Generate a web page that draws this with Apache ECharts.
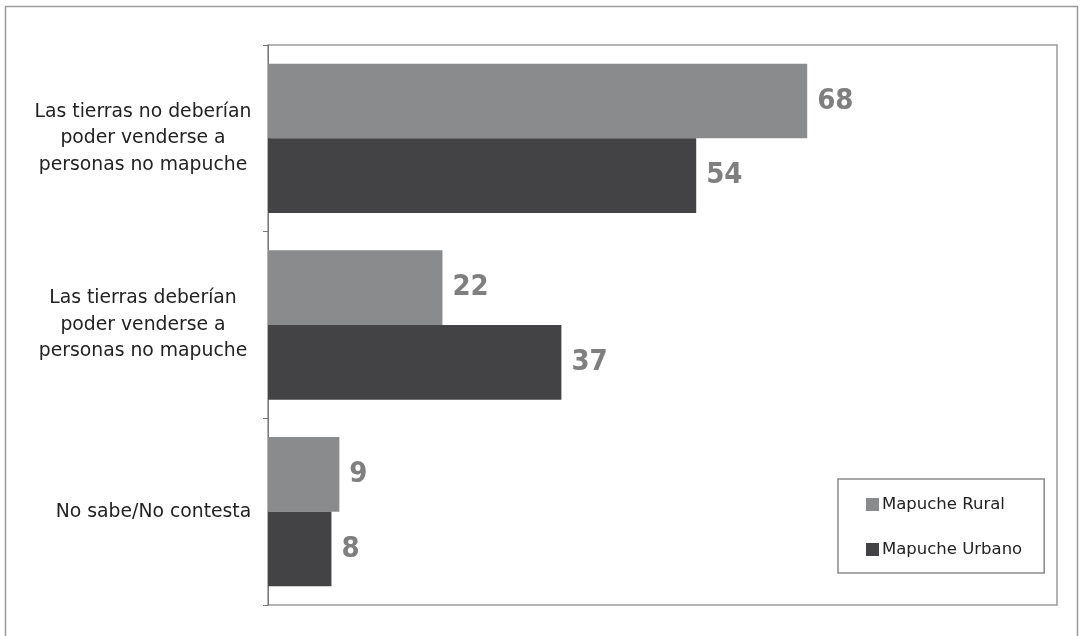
<!DOCTYPE html>
<html><head><meta charset="utf-8">
<script src="https://cdn.jsdelivr.net/npm/echarts@6/dist/echarts.min.js"></script>
<style>html,body{margin:0;padding:0;background:#fff}#c{width:1080px;height:636px}</style>
</head><body><div id="c"></div>
<script>
const categories = ["Las tierras no deberían\npoder venderse a\npersonas no mapuche", "Las tierras deberían\npoder venderse a\npersonas no mapuche", "No sabe/No contesta"];
const seriesNames = ["Mapuche Rural", "Mapuche Urbano"];
const rural = [68, 22, 9];
const urbano = [54, 37, 8];
const colors = ["#8a8b8d", "#434244"];
const font = "DejaVu Sans";
const chart = echarts.init(document.getElementById('c'));
const mk = (name, data, color) => ({
  name, type: 'bar', data, barCategoryGap: '20%', barGap: '0%',
  itemStyle: { color },
  label: { show: true, position: 'right', distance: 10, color: '#7f7f7f', fontWeight: 'bold', fontSize: 29, fontFamily: '"DejaVu Sans Condensed", Roboto, sans-serif' }
});
chart.setOption({
  animation: false,
  backgroundColor: '#fff',
  graphic: [{ type: 'rect', left: 3, top: 4, shape: { width: 1072, height: 640 }, style: { fill: 'none', stroke: '#9a9a9a', lineWidth: 1.5 } }],
  grid: { left: 268, right: 23, top: 45, bottom: 31, show: true, borderColor: '#9a9a9a', borderWidth: 1.5 },
  xAxis: { type: 'value', min: 0, max: 99.5, show: false, splitLine: { show: false } },
  yAxis: {
    type: 'category', data: categories, inverse: true,
    axisLine: { lineStyle: { color: '#777' } },
    axisTick: { show: true, length: 5, lineStyle: { color: '#777' } },
    axisLabel: {
      align: 'center', margin: 125, color: '#222', fontSize: 18.8, lineHeight: 26.5, fontFamily: font,
      formatter: v => v.indexOf('\n') >= 0 ? v : '{s|' + v + '}',
      rich: { s: { fontSize: 18.8, fontFamily: font, color: '#222', padding: [0, 0, 0, 21] } }
    }
  },
  legend: {
    orient: 'vertical', left: 838, top: 479, itemGap: 28, itemWidth: 13, itemHeight: 13,
    data: seriesNames.map(n => ({ name: n, icon: 'rect' })),
    textStyle: { fontSize: 16.5, color: '#222', fontFamily: font, padding: [0, 0, 0, -2] },
    backgroundColor: '#fff', borderColor: '#8a8a8a', borderWidth: 1.5,
    padding: [17, 22, 15, 28]
  },
  series: [mk(seriesNames[0], rural, colors[0]), mk(seriesNames[1], urbano, colors[1])]
});
</script></body></html>
